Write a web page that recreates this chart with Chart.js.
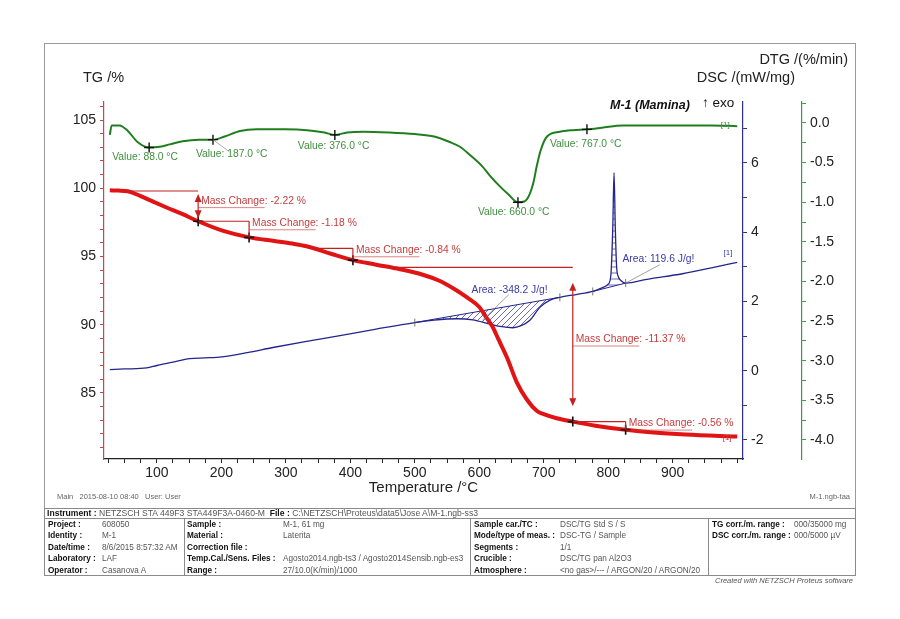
<!DOCTYPE html>
<html>
<head>
<meta charset="utf-8">
<title>M-1 (Mamina) TG / DSC / DTG</title>
<script src="https://cdn.jsdelivr.net/npm/chart.js@4.4.0/dist/chart.umd.min.js"></script>
<style>
  html, body { margin: 0; padding: 0; background: #fff; }
  #wrap { position: relative; width: 900px; height: 619px; font-family: "Liberation Sans", Arial, sans-serif; }
  #frame { position: absolute; left: 44px; top: 43px; width: 810px; height: 464px; border: 1px solid #9a9a9a; }
  #chart { position: absolute; left: 0; top: 0; }
  .t { position: absolute; white-space: nowrap; line-height: 1; }
  .foot { font-size: 7.5px; color: #666; }
  #tbl { position: absolute; left: 44px; top: 508px; width: 810px; height: 66px; border: 1px solid #8a8a8a; }
  .hl { position: absolute; left: 0; width: 810px; height: 0; border-top: 1px solid #8a8a8a; }
  .vl { position: absolute; top: 10px; height: 56px; width: 0; border-left: 1px solid #8a8a8a; }
  .cell { position: absolute; font-size: 8.2px; white-space: nowrap; color: #555; line-height: 11.4px; }
  .cell b { color: #111; }
</style>
</head>
<body>
<div id="wrap">
  <div id="frame"></div>
  <canvas id="chart" width="900" height="619"></canvas>

  <div class="t foot" style="left:57px;top:493px;">Main&nbsp;&nbsp;&nbsp;2015-08-10 08:40&nbsp;&nbsp;&nbsp;User: User</div>
  <div class="t foot" style="right:50px;top:493px;">M-1.ngb-taa</div>

  <div id="tbl">
    <div class="hl" style="top:9px;"></div>
    <div class="vl" style="left:139px;"></div>
    <div class="vl" style="left:425px;"></div>
    <div class="vl" style="left:663px;"></div>
    <div class="cell" style="left:2px;top:-1px;font-size:8.6px;"><b>Instrument :</b> NETZSCH STA 449F3 STA449F3A-0460-M&nbsp;&nbsp;<b>File :</b> C:\NETZSCH\Proteus\data5\Jose A\M-1.ngb-ss3</div>

    <div class="cell" style="left:3px;top:10px;"><b>Project :</b><br><b>Identity :</b><br><b>Date/time :</b><br><b>Laboratory :</b><br><b>Operator :</b></div>
    <div class="cell" style="left:57px;top:10px;">608050<br>M-1<br>8/6/2015 8:57:32 AM<br>LAF<br>Casanova A</div>

    <div class="cell" style="left:142px;top:10px;"><b>Sample :</b><br><b>Material :</b><br><b>Correction file :</b><br><b>Temp.Cal./Sens. Files :</b><br><b>Range :</b></div>
    <div class="cell" style="left:238px;top:10px;">M-1, 61 mg<br>Laterita<br>&nbsp;<br>Agosto2014.ngb-ts3 / Agosto2014Sensib.ngb-es3<br>27/10.0(K/min)/1000</div>

    <div class="cell" style="left:429px;top:10px;"><b>Sample car./TC :</b><br><b>Mode/type of meas. :</b><br><b>Segments :</b><br><b>Crucible :</b><br><b>Atmosphere :</b></div>
    <div class="cell" style="left:515px;top:10px;">DSC/TG Std S / S<br>DSC-TG / Sample<br>1/1<br>DSC/TG pan Al2O3<br>&lt;no gas&gt;/--- / ARGON/20 / ARGON/20</div>

    <div class="cell" style="left:667px;top:10px;"><b>TG corr./m. range :</b><br><b>DSC corr./m. range :</b></div>
    <div class="cell" style="left:749px;top:10px;">000/35000 mg<br>000/5000 µV</div>
  </div>
  <div class="t" style="right:47px;top:577px;font-size:7.5px;font-style:italic;color:#555;">Created with NETZSCH Proteus software</div>
</div>

<script>
// tick labels
const xTicks = [100, 200, 300, 400, 500, 600, 700, 800, 900];
const tgTicks = [85, 90, 95, 100, 105];
const dscTicks = [-2, 0, 2, 4, 6];
const dtgTicks = [-4.0, -3.5, -3.0, -2.5, -2.0, -1.5, -1.0, -0.5, 0.0];

// TG /%
const tgTemp = [27, 40, 55, 74, 95, 115, 140, 164, 203, 243, 280, 310, 332, 370, 404, 440, 477, 510, 539, 560, 581, 600, 610, 620, 630, 643, 658, 674, 689, 700, 720, 745, 780, 827, 870, 920, 1000];
const tgMass = [99.85, 99.83, 99.78, 99.44, 99.0, 98.59, 98.1, 97.58, 96.87, 96.40, 96.15, 95.95, 95.75, 95.2, 94.73, 94.4, 94.07, 93.7, 93.2, 92.65, 92.0, 91.3, 90.6, 89.9, 88.9, 87.6, 85.8, 84.5, 83.7, 83.45, 83.15, 82.9, 82.6, 82.3, 82.1, 81.95, 81.8];

// DSC /(mW/mg)
const dscTemp = [27, 50, 84, 100, 125, 151, 175, 201, 240, 280, 330, 384, 440, 500, 530, 565, 590, 616, 635, 652, 665, 678, 694, 709, 725, 750, 776, 791, 800, 804, 807, 809, 811, 813, 816, 820, 827, 860, 915, 960, 1000];
const dscVal = [0.03, 0.05, 0.08, 0.15, 0.25, 0.35, 0.37, 0.40, 0.52, 0.67, 0.84, 1.01, 1.20, 1.39, 1.46, 1.50, 1.47, 1.35, 1.27, 1.24, 1.30, 1.45, 1.83, 2.03, 2.12, 2.20, 2.29, 2.40, 2.50, 2.75, 4.10, 5.72, 4.10, 3.00, 2.70, 2.60, 2.53, 2.64, 2.80, 2.97, 3.13];

// DTG /(%/min)
const dtgTemp = [27, 30, 42, 55, 70, 88, 105, 120, 140, 165, 187, 205, 229, 255, 300, 333, 360, 376, 395, 420, 460, 500, 530, 554, 570, 585, 605, 616, 632, 645, 660, 670, 677, 684, 689, 695, 705, 725, 745, 767, 790, 822, 900, 960, 1000];
const dtgVal = [-0.15, -0.03, -0.03, -0.10, -0.24, -0.31, -0.30, -0.27, -0.23, -0.21, -0.21, -0.17, -0.10, -0.08, -0.08, -0.09, -0.12, -0.15, -0.12, -0.11, -0.12, -0.14, -0.17, -0.24, -0.30, -0.40, -0.55, -0.66, -0.80, -0.90, -1.00, -0.99, -0.92, -0.75, -0.55, -0.35, -0.17, -0.11, -0.09, -0.08, -0.06, -0.03, -0.03, -0.03, -0.04];

// DTG peak values
const valTemp = [88, 187, 376, 660, 767];
const valDtg = [-0.31, -0.21, -0.15, -1.0, -0.08];
const valDx = [-37, -17, -37, -40, -37];
const valDy = [10, 15, 11, 10, 15];

// TG mass change steps
const stepStart = [55, 164, 345, 461, 745];
const stepEnd = [164, 243, 404, 745, 827];
const stepFrom = [99.8, 97.58, 95.6, 94.2, 82.9];
const stepTo = [97.58, 96.40, 94.73, 82.9, 82.3];
const stepLabel = ['-2.22', '-1.18', '-0.84', '-11.37', '-0.56'];
const stepArrow = [true, false, false, true, false];

// DSC peak integration (baseline ends)
const endoBase = [[500, 1.39], [725, 2.12]];
const exoBase = [[776, 2.29], [827, 2.53]];
const dscMarks = [500, 725, 776, 827];

const RED = '#e01414', RED_TXT = '#c43c3c', BLUE = '#24248c', BLUE_TXT = '#3a3aa8', GREEN = '#1f7f1f', GREEN_TXT = '#3f8f3f';
const FONT = '"Liberation Sans", Arial, sans-serif';

const pts = (xs, ys) => xs.map((v, i) => ({ x: v, y: ys[i] }));
const dscAt = t => {
  for (let i = 1; i < dscTemp.length; i++) {
    if (t <= dscTemp[i]) {
      const f = (t - dscTemp[i - 1]) / (dscTemp[i] - dscTemp[i - 1]);
      return dscVal[i - 1] + f * (dscVal[i] - dscVal[i - 1]);
    }
  }
  return dscVal[dscVal.length - 1];
};

function hatch(kind) {
  const c = document.createElement('canvas');
  c.width = 6; c.height = 6;
  const g = c.getContext('2d');
  g.strokeStyle = 'rgba(36,36,140,0.85)';
  g.lineWidth = 0.8;
  g.beginPath();
  if (kind === 'diag') {
    g.moveTo(0, 6); g.lineTo(6, 0);
    g.moveTo(-1, 1); g.lineTo(1, -1);
    g.moveTo(5, 7); g.lineTo(7, 5);
  } else {
    g.moveTo(0, 3); g.lineTo(6, 3);
  }
  g.stroke();
  return g.createPattern(c, 'repeat');
}

function minorTicks(lo, hi, step) {
  const out = [];
  for (let v = lo; v <= hi + 1e-9; v += step) out.push(Math.round(v * 1000) / 1000);
  return out;
}
const isMajor = (list, v) => list.some(m => Math.abs(m - v) < 1e-6);

function axisOpts(pos, color, min, max, majors, minors, width, fmt, weight) {
  return {
    type: 'linear', position: pos, min, max, weight,
    afterBuildTicks: s => { s.ticks = minors.map(v => ({ value: v })); },
    afterFit: s => { s.width = width; },
    ticks: {
      autoSkip: false, padding: 4, color: '#222',
      font: { family: FONT, size: 14 },
      callback: v => isMajor(majors, v) ? fmt(v) : ''
    },
    grid: { drawOnChartArea: false, color: color, tickLength: 4 },
    border: { color: color, width: 1.2 }
  };
}

function line(ctx, x1, y1, x2, y2) {
  ctx.beginPath(); ctx.moveTo(x1, y1); ctx.lineTo(x2, y2); ctx.stroke();
}
function head(ctx, x, y, dir) {
  ctx.beginPath(); ctx.moveTo(x, y); ctx.lineTo(x - 3.5, y - dir * 8); ctx.lineTo(x + 3.5, y - dir * 8); ctx.closePath(); ctx.fill();
}

const notes = {
  id: 'notes',
  afterDatasetsDraw(chart) {
    const { ctx } = chart;
    const { x, y, y1, y2 } = chart.scales;
    ctx.save();
    ctx.textBaseline = 'middle';

    // mass change brackets
    ctx.font = '10.3px ' + FONT;
    for (let i = 0; i < stepLabel.length; i++) {
      const xa = x.getPixelForValue(stepStart[i]), xb = x.getPixelForValue(stepEnd[i]);
      const ya = y.getPixelForValue(stepFrom[i]), yb = y.getPixelForValue(stepTo[i]);
      ctx.strokeStyle = '#c42020'; ctx.fillStyle = '#c42020'; ctx.lineWidth = 1.2;
      line(ctx, xa, ya, xb, ya);
      let ly;
      if (stepArrow[i]) {
        const ins = (yb - ya) * 0.1;
        line(ctx, xb, ya + ins + 6, xb, yb - ins - 6);
        head(ctx, xb, ya + ins, -1);
        head(ctx, xb, yb - ins, 1);
        ly = (ya + yb) / 2 - 5;
      } else {
        line(ctx, xb, ya, xb, yb);
        ly = ya + 2;
      }
      const lx = xb + 3;
      ctx.fillStyle = RED_TXT;
      ctx.fillText('Mass Change: ' + stepLabel[i] + ' %', lx, ly);
      const w = ctx.measureText('Mass Change').width;
      ctx.strokeStyle = 'rgba(196,60,60,0.8)'; ctx.lineWidth = 0.8;
      line(ctx, xb, ly + 6.5, lx + w, ly + 6.5);
    }
    // [1] tag on TG end
    ctx.font = '8px ' + FONT;
    ctx.fillStyle = RED_TXT;
    ctx.fillText('[1]', x.getPixelForValue(993) - 10, y.getPixelForValue(82.3) + 8);

    // DTG value labels
    ctx.font = '10.3px ' + FONT;
    ctx.fillStyle = GREEN_TXT;
    for (let i = 0; i < valTemp.length; i++) {
      const px = x.getPixelForValue(valTemp[i]), py = y2.getPixelForValue(valDtg[i]);
      ctx.fillText('Value: ' + valTemp[i].toFixed(1) + ' °C', px + valDx[i], py + valDy[i]);
    }
    ctx.strokeStyle = '#888'; ctx.lineWidth = 0.7;
    line(ctx, x.getPixelForValue(187), y2.getPixelForValue(-0.21), x.getPixelForValue(212), y2.getPixelForValue(-0.36));
    ctx.font = '8px ' + FONT;
    ctx.fillText('[1]', x.getPixelForValue(990) - 10, y2.getPixelForValue(-0.02));

    // DSC area labels
    ctx.font = '10.3px ' + FONT;
    ctx.fillStyle = BLUE_TXT;
    ctx.fillText('Area: -348.2 J/g!', x.getPixelForValue(588), y1.getPixelForValue(2.32));
    ctx.fillText('Area: 119.6 J/g!', x.getPixelForValue(822), y1.getPixelForValue(3.22));
    ctx.strokeStyle = '#777'; ctx.lineWidth = 0.7;
    line(ctx, x.getPixelForValue(646), y1.getPixelForValue(2.2), x.getPixelForValue(605), y1.getPixelForValue(dscAt(605)) - 2);
    line(ctx, x.getPixelForValue(880), y1.getPixelForValue(3.06), x.getPixelForValue(827), y1.getPixelForValue(dscAt(827)));
    ctx.font = '8px ' + FONT;
    ctx.fillText('[1]', x.getPixelForValue(985) - 4, y1.getPixelForValue(3.4));

    // axis titles and sample name
    ctx.fillStyle = '#222';
    ctx.font = '14.5px ' + FONT;
    ctx.textAlign = 'left';
    ctx.fillText('TG /%', 83, 78);
    ctx.textAlign = 'right';
    ctx.fillText('DTG /(%/min)', 848, 60);
    ctx.fillText('DSC /(mW/mg)', 795, 78);
    ctx.textAlign = 'left';
    ctx.font = 'italic bold 12.5px ' + FONT;
    ctx.fillStyle = '#111';
    ctx.fillText('M-1 (Mamina)', 610, 106);
    ctx.font = '13.5px ' + FONT;
    ctx.fillText('↑ exo', 702, 103);
    ctx.restore();
  }
};

const xMinor = minorTicks(25, 1000, 25);
const tgMinor = minorTicks(81, 106, 1);
const dscMinor = minorTicks(-2, 7, 1);
const dtgMinor = minorTicks(-4, 0.25, 0.25);

new Chart(document.getElementById('chart'), {
  type: 'line',
  data: {
    datasets: [
      { // TG markers
        data: pts(stepEnd, stepTo), yAxisID: 'y', showLine: false,
        pointStyle: 'cross', pointRadius: 5, pointBorderColor: '#111', pointBorderWidth: 1.6
      },
      { // DTG markers
        data: pts(valTemp, valDtg), yAxisID: 'y2', showLine: false,
        pointStyle: 'cross', pointRadius: 5, pointBorderColor: '#111', pointBorderWidth: 1.4
      },
      { // TG
        data: pts(tgTemp, tgMass), yAxisID: 'y', borderColor: RED, borderWidth: 4,
        pointRadius: 0, cubicInterpolationMode: 'monotone', fill: false
      },
      { // DTG
        data: pts(dtgTemp, dtgVal), yAxisID: 'y2', borderColor: GREEN, borderWidth: 2,
        pointRadius: 0, cubicInterpolationMode: 'monotone', fill: false
      },
      { // DSC markers
        data: dscMarks.map(t => ({ x: t, y: dscAt(t) })), yAxisID: 'y1', showLine: false,
        pointStyle: 'line', rotation: 90, pointRadius: 4, pointBorderColor: '#555', pointBorderWidth: 0.8
      },
      { // DSC
        data: pts(dscTemp, dscVal), yAxisID: 'y1', borderColor: BLUE, borderWidth: 1.3,
        pointRadius: 0, cubicInterpolationMode: 'monotone', fill: false
      },
      { // endothermic baseline
        data: endoBase.map(p => ({ x: p[0], y: p[1] })), yAxisID: 'y1', borderColor: BLUE, borderWidth: 1,
        pointRadius: 0, fill: { target: 5 }, backgroundColor: hatch('diag')
      },
      { // exothermic peak baseline
        data: exoBase.map(p => ({ x: p[0], y: p[1] })), yAxisID: 'y1', borderColor: BLUE, borderWidth: 1,
        pointRadius: 0, fill: { target: 5 }, backgroundColor: hatch('horiz')
      }
    ]
  },
  options: {
    responsive: false,
    animation: false,
    events: [],
    layout: { padding: { left: 60, right: 38, top: 102, bottom: 120 } },
    plugins: { legend: { display: false }, tooltip: { enabled: false } },
    scales: {
      x: {
        type: 'linear', min: 18, max: 1009,
        afterBuildTicks: s => { s.ticks = xMinor.map(v => ({ value: v })); },
        afterFit: s => { s.height = 40; },
        ticks: {
          autoSkip: false, maxRotation: 0, padding: 2, color: '#222',
          font: { family: FONT, size: 14 },
          callback: v => isMajor(xTicks, v) ? String(v) : ''
        },
        grid: { drawOnChartArea: false, color: '#222', tickLength: 4 },
        border: { color: '#222', width: 1.2 },
        title: { display: true, text: 'Temperature /°C', color: '#222', font: { family: FONT, size: 15 }, padding: { top: 0, bottom: 2 } }
      },
      y: axisOpts('left', '#c84848', 80.16, 106.32, tgTicks, tgMinor, 44, v => String(v), 0),
      y1: axisOpts('right', '#2e2e8e', -2.55, 7.76, dscTicks, dscMinor, 59, v => String(v), 0),
      y2: axisOpts('right', '#3a9a3a', -4.24, 0.265, dtgTicks, dtgMinor, 60, v => v.toFixed(1), 1)
    }
  },
  plugins: [notes]
});
</script>
</body>
</html>
